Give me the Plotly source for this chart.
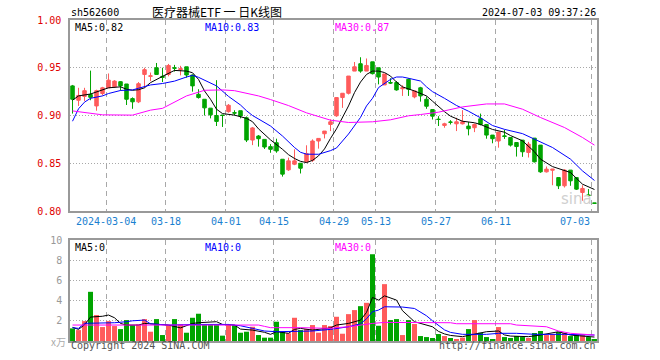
import plotly.graph_objects as go

# ---------------- data ----------------
opens = [0.931,0.916,0.920,0.922,0.910,0.923,0.929,0.930,0.9354,0.933,
         0.9177,0.9143,0.943,0.941,0.950,0.941,0.943,0.950,0.948,0.951,
         0.9424,0.9222,0.917,0.9077,0.900,0.9005,0.904,0.903,0.905,0.8976,
         0.8743,0.8785,0.875,0.8674,0.8715,0.8542,0.8431,0.849,0.850,0.8514,
         0.8531,0.8733,0.8809,0.8906,0.8997,0.9188,0.9233,0.9465,0.9542,0.9465,
         0.9562,0.950,0.932,0.9345,0.9345,0.928,0.9379,0.9195,0.929,0.917,
         0.9062,0.8962,0.8896,0.8932,0.8913,0.8913,0.8889,0.8872,0.8965,0.8906,
         0.8795,0.8733,0.8787,0.877,0.8717,0.8742,0.8613,0.8763,0.869,0.841,
         0.8427,0.835,0.8264,0.8428,0.835,0.8194,0.8168,0.8085]
highs = [0.932,0.929,0.929,0.947,0.927,0.930,0.944,0.937,0.936,0.933,
         0.919,0.935,0.950,0.945,0.955,0.950,0.954,0.953,0.952,0.951,
         0.943,0.9275,0.917,0.9077,0.937,0.9005,0.912,0.9055,0.905,0.899,
         0.888,0.8795,0.875,0.870,0.8757,0.8542,0.8559,0.8646,0.850,0.8688,
         0.875,0.876,0.8837,0.896,0.919,0.9233,0.9413,0.956,0.961,0.9597,
         0.9562,0.950,0.9435,0.939,0.936,0.9316,0.939,0.9257,0.930,0.920,
         0.9062,0.8993,0.8924,0.8951,0.8976,0.9056,0.8931,0.8917,0.902,0.8906,
         0.8795,0.8826,0.885,0.877,0.8717,0.8742,0.8724,0.8763,0.869,0.8466,
         0.8438,0.835,0.8438,0.8428,0.835,0.827,0.823,0.8085]
lows = [0.902,0.910,0.915,0.916,0.905,0.921,0.929,0.929,0.926,0.911,
        0.907,0.913,0.929,0.936,0.943,0.935,0.941,0.946,0.942,0.9396,
        0.925,0.9177,0.900,0.897,0.889,0.888,0.903,0.900,0.897,0.8722,
        0.869,0.8674,0.865,0.861,0.861,0.836,0.842,0.848,0.8393,0.8507,
        0.8514,0.8653,0.876,0.8837,0.8986,0.908,0.922,0.9465,0.9448,0.9465,
        0.943,0.9326,0.932,0.933,0.926,0.9205,0.9205,0.918,0.9145,0.907,
        0.8958,0.889,0.8872,0.8906,0.8837,0.8906,0.8792,0.8826,0.8896,0.8757,
        0.8709,0.8663,0.8755,0.8675,0.857,0.8567,0.856,0.8508,0.840,0.8403,
        0.827,0.823,0.8246,0.8264,0.822,0.8107,0.8152,0.8075]
closes = [0.917,0.921,0.926,0.919,0.926,0.929,0.937,0.936,0.931,0.917,
          0.9143,0.9333,0.948,0.9415,0.943,0.940,0.9524,0.9495,0.949,0.9424,
          0.931,0.9188,0.908,0.9007,0.8938,0.900,0.9107,0.9025,0.8995,0.8743,
          0.887,0.8757,0.867,0.8646,0.8629,0.8386,0.8525,0.8525,0.8448,0.860,
          0.8733,0.876,0.8837,0.8934,0.9188,0.9233,0.9413,0.951,0.9465,0.9524,
          0.9438,0.9403,0.9435,0.934,0.9268,0.929,0.9275,0.9257,0.9205,0.9097,
          0.8993,0.8958,0.8913,0.8929,0.8934,0.8934,0.8861,0.8906,0.8906,0.8795,
          0.8757,0.8826,0.8780,0.869,0.8675,0.862,0.870,0.8515,0.841,0.8438,
          0.8438,0.8264,0.8428,0.8316,0.8229,0.8236,0.8163,0.808]
volumes = [1.25,1.08,1.97,4.87,2.57,1.38,1.97,1.48,1.18,2.07,
           1.58,1.64,2.17,0.92,2.17,0.59,1.58,2.17,1.64,0.82,
           2.30,2.70,1.64,1.64,1.64,0.53,1.64,1.58,0.82,0.92,
           1.41,0.59,0.33,0.33,1.91,0.92,0.76,2.30,1.08,1.18,
           1.58,0.82,1.58,1.48,2.40,0.72,2.66,3.06,3.45,3.78,
           8.59,1.51,5.63,2.07,2.17,0.59,2.07,1.68,0.49,0.39,
           0.30,0.69,0.49,0.30,0.20,0.33,1.18,2.07,0.82,0.39,
           0.20,1.38,0.39,0.30,0.49,0.39,0.30,0.79,0.99,0.59,
           0.69,0.89,0.79,0.49,0.59,0.59,0.39,0.20]

# moving-average lines: (candle index, value)
ma5_idx = [0,1,3,5,6,8,9,10,11,12,13,15,17,19,20,21,22,23,24,25,27,29,30,31,33,35,36,37,38,39,40,41,42,43,44,46,47,48,49,50,51,52,53,54,55,57,58,59,60,61,62,63,65,67,68,70,72,73,75,77,78,80,82,83,85,87]
ma5_val = [0.916,0.9205,0.9225,0.9264,0.929,0.930,0.9275,0.9264,0.927,0.929,0.9344,0.941,0.9472,0.9465,0.9448,0.9378,0.9257,0.917,0.9066,0.902,0.9004,0.897,0.8935,0.886,0.8745,0.8646,0.859,0.855,0.852,0.8507,0.853,0.8577,0.865,0.876,0.886,0.910,0.924,0.935,0.943,0.9465,0.9465,0.945,0.9413,0.935,0.930,0.9257,0.923,0.9205,0.915,0.909,0.904,0.8993,0.894,0.8924,0.8906,0.8854,0.8825,0.879,0.8735,0.862,0.8543,0.8465,0.8421,0.8403,0.8281,0.8225]
ma10_idx = [0,1,2,3,5,6,8,10,11,13,15,17,19,20,21,22,24,26,28,29,30,33,35,37,38,39,41,43,44,46,48,49,50,51,53,54,55,56,58,59,60,62,64,66,68,70,72,75,77,80,83,85,87]
ma10_val = [0.894,0.907,0.914,0.918,0.9205,0.923,0.9262,0.9268,0.9285,0.932,0.9335,0.936,0.9403,0.942,0.940,0.937,0.931,0.920,0.911,0.905,0.900,0.889,0.8785,0.8665,0.8615,0.8595,0.8594,0.8632,0.866,0.8806,0.898,0.910,0.918,0.9292,0.9378,0.9403,0.9403,0.939,0.9361,0.930,0.925,0.918,0.9105,0.9045,0.8976,0.8895,0.8855,0.881,0.8752,0.8665,0.8543,0.842,0.832]
ma30_idx = [0,3,5,10,11,13,15,17,19,22,25,27,29,31,33,36,39,41,43,46,49,50,53,56,58,61,65,69,72,75,78,82,85,87]
ma30_val = [0.9048,0.902,0.9007,0.9004,0.902,0.9056,0.9075,0.9136,0.9205,0.9264,0.9268,0.926,0.923,0.9205,0.9167,0.9104,0.9028,0.8986,0.8951,0.8927,0.8927,0.8934,0.8955,0.8997,0.901,0.9035,0.909,0.9121,0.9121,0.9066,0.8979,0.8874,0.877,0.869]

vma5_idx = [0,1,2,3,5,6,7,8,9,11,12,14,16,18,20,21,23,24,25,27,28,30,32,33,34,36,37,38,40,43,44,46,48,49,50,51,52,54,55,56,57,60,61,62,63,65,67,69,71,72,73,76,78,80,81,83,86,87]
vma5_val = [1.35,1.15,1.6,2.37,2.45,2.57,2.3,1.74,1.58,1.58,1.74,1.64,1.58,1.3,1.74,1.81,1.84,1.91,1.64,1.58,1.18,1.08,0.86,0.66,0.92,0.76,1.15,1.25,1.08,1.3,1.58,1.74,2.07,2.83,4.31,4.05,4.47,4.05,3.0,2.47,1.91,1.41,0.95,0.7,0.55,0.43,0.69,0.92,0.99,0.6,0.49,0.43,0.59,0.76,0.92,0.59,0.49,0.39]
vma10_idx = [0,1,2,4,7,9,10,12,13,16,19,21,26,28,30,32,34,38,40,43,46,48,49,50,51,52,55,57,58,59,60,61,62,63,64,65,69,71,74,77,82,87]
vma10_val = [1.32,1.25,1.75,1.76,1.81,1.91,2.0,2.07,1.70,1.58,1.64,1.64,1.64,1.51,1.25,0.99,0.92,0.92,0.99,1.15,1.41,1.7,2.2,2.9,3.06,3.39,3.36,3.22,2.9,2.5,2.0,1.58,1.1,0.85,0.72,0.66,0.66,0.76,0.76,0.66,0.66,0.59]
vma30_idx = [0,5,12,16,21,27,31,32,33,38,43,44,46,50,52,63,64,73,74,79,80,81,83,87]
vma30_val = [1.58,1.58,1.64,1.58,1.64,1.64,1.58,1.45,1.32,1.32,1.25,1.32,1.41,1.74,1.84,1.81,1.71,1.71,1.58,1.41,1.2,0.99,0.76,0.59]

tick_idx = [6,16,26,34,44,51,61,71,87]
tick_labels = ["2024-03-04","03-18","04-01","04-15","04-29","05-13","05-27","06-11","07-03"]
price_ticks = [0.80,0.85,0.90,0.95,1.00]
vol_ticks = [2,4,6,8,10]

# ---------------- styles ----------------
RED = "#ff5b5b"
GREEN = "#00a400"
MONO = "DejaVu Sans Mono, Liberation Mono, monospace"
CJK = "Noto Sans CJK SC, sans-serif"
GRID = "#a8a8a8"
BORDER = "#999999"

n = len(closes)
x = list(range(n))
HALF = 0.42  # half candle slot; grid lines sit on left edge of a candle

fig = go.Figure()
fig.add_trace(go.Candlestick(
    x=x, open=opens, high=highs, low=lows, close=closes,
    increasing=dict(line=dict(color=RED, width=1), fillcolor=RED),
    decreasing=dict(line=dict(color=GREEN, width=1), fillcolor=GREEN),
    whiskerwidth=0, xaxis="x", yaxis="y", showlegend=False, hoverinfo="skip"))

for idx, val, col in [(ma5_idx, ma5_val, "#000000"), (ma10_idx, ma10_val, "#0000ff"),
                      (ma30_idx, ma30_val, "#ff00ff")]:
    fig.add_trace(go.Scatter(x=idx, y=val, mode="lines", line=dict(color=col, width=1),
                             xaxis="x", yaxis="y", showlegend=False, hoverinfo="skip"))

bar_colors = [RED if c >= o else GREEN for o, c in zip(opens, closes)]
fig.add_trace(go.Bar(x=x, y=volumes, marker=dict(color=bar_colors, line=dict(width=0)),
                     xaxis="x2", yaxis="y2", showlegend=False, hoverinfo="skip"))

for idx, val, col in [(vma5_idx, vma5_val, "#000000"), (vma10_idx, vma10_val, "#0000ff"),
                      (vma30_idx, vma30_val, "#ff00ff")]:
    fig.add_trace(go.Scatter(x=idx, y=val, mode="lines", line=dict(color=col, width=1),
                             xaxis="x2", yaxis="y2", showlegend=False, hoverinfo="skip"))

# ---------------- layout ----------------
L, R, T, B = 70, 597, 20, 341
W = R - L
H = B - T
main_bottom = 211
vol_top = 240

def px(v):
    return (v - L) / W

def py(v):
    return (B - v) / H

xr = [-HALF, n - 1 + HALF]
xgrid = [t - HALF for t in tick_idx]
common_x = dict(range=xr, tickvals=xgrid, showticklabels=False, ticks="",
                showgrid=True, gridcolor=GRID, griddash="5px,4px", gridwidth=1,
                showline=True, mirror=True, linecolor=BORDER, linewidth=1.5,
                zeroline=False, fixedrange=True)

fig.update_layout(
    width=660, height=360,
    margin=dict(l=L, r=660 - R, t=T, b=360 - B),
    paper_bgcolor="white", plot_bgcolor="white",
    boxgap=0.17, bargap=0.17,
    showlegend=False,
    xaxis=dict(**common_x, anchor="y", domain=[0, 1], rangeslider=dict(visible=False)),
    xaxis2=dict(**common_x, anchor="y2", domain=[0, 1]),
    yaxis=dict(domain=[py(main_bottom), 1], range=[0.80, 1.00], tickvals=price_ticks,
               ticktext=["%.2f" % v for v in price_ticks],
               tickfont=dict(family=MONO, size=10, color="#e00000"),
               showgrid=True, gridcolor=GRID, griddash="1px,2px", gridwidth=1,
               showline=True, mirror=True, linecolor=BORDER, linewidth=1.5,
               zeroline=False, ticks="", ticklabelstandoff=5, fixedrange=True),
    yaxis2=dict(domain=[0, py(vol_top)], range=[0, 10], tickvals=vol_ticks,
                ticktext=[str(v) for v in vol_ticks],
                tickfont=dict(family=MONO, size=10, color="#999999"),
                showgrid=True, gridcolor=GRID, griddash="1px,2px", gridwidth=1,
                showline=True, mirror=True, linecolor=BORDER, linewidth=1.5,
                zeroline=False, ticks="", ticklabelstandoff=4, fixedrange=True),
)

ann = []
def text(t, xpix, ypix, color="#000", size=10, family=MONO, xanchor="left", **kw):
    ann.append(dict(text=t, x=px(xpix), y=py(ypix), xref="paper", yref="paper",
                    xanchor=xanchor, yanchor="middle", showarrow=False,
                    font=dict(family=family, size=size, color=color), **kw))

text("sh562600", 69, 12, size=10)
text("医疗器械ETF 一 日K线图", 150, 11, size=12, family=CJK)
text("2024-07-03 09:37:26", 598, 12, size=10, xanchor="right")
text("MA5:%.2f" % ma5_val[-1], 73, 27, size=10)
text("MA10:%.2f" % ma10_val[-1], 203, 27, size=10, color="#0000ff")
text("MA30:%.2f" % ma30_val[-1], 333, 27, size=10, color="#ff00ff")
text("MA5:0", 73, 247, size=10)
text("MA10:0", 203, 247, size=10, color="#0000ff")
text("MA30:0", 333, 247, size=10, color="#ff00ff")
text("x万", 49, 342, size=10, family=CJK, color="#aaaaaa")
text("Copyright 2024 SINA.COM", 69, 346, size=10, color="#555555")
text("http://finance.sina.com.cn", 598, 346, size=10, color="#555555", xanchor="right")
text("sina", 594, 199, size=15, family="DejaVu Sans", color="#d0d0d0", xanchor="right")

for i, lab in zip(tick_idx, tick_labels):
    xpix = L + (i - HALF - xr[0]) / (xr[1] - xr[0]) * W
    anchor = "center"
    if xpix + len(lab) * 3 > R:
        anchor = "right"
    text(lab, xpix, 221, size=10, color="#1a7fd0", xanchor=anchor)

fig.update_layout(annotations=ann)
fig.write_html("out.html")
